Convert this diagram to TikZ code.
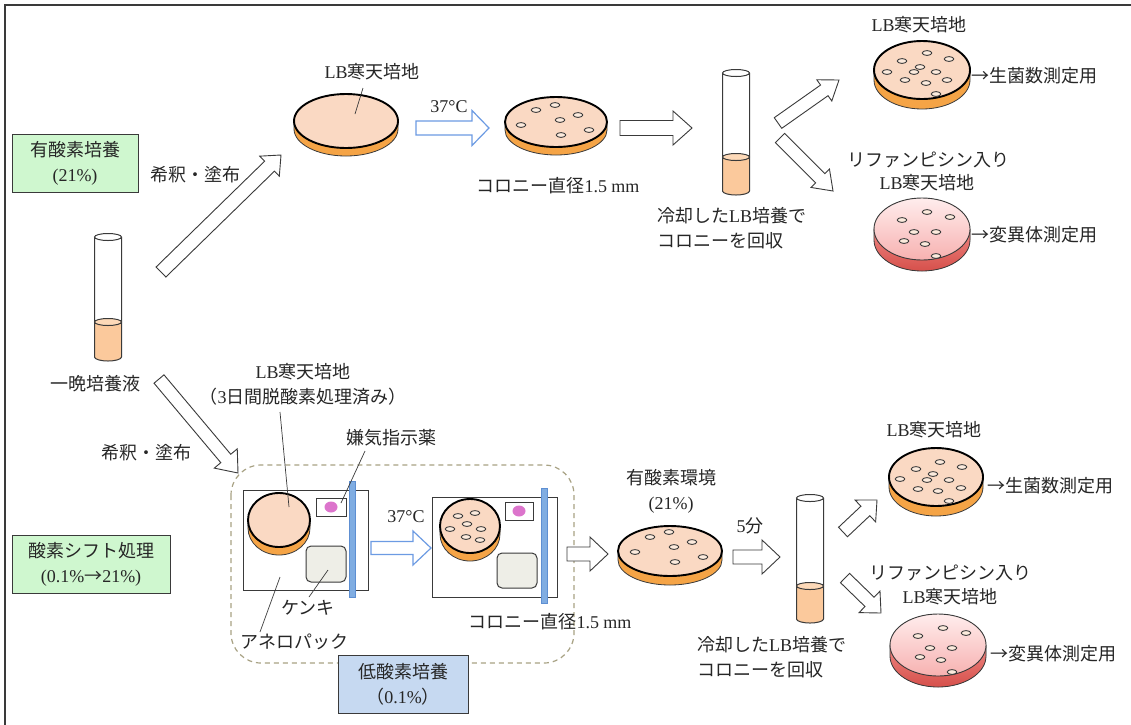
\documentclass[tikz,border=0pt]{standalone}
\usepackage{fontspec}
\setmainfont{Liberation Serif}
\newfontfamily\jp{Noto Sans CJK JP}
\usetikzlibrary{calc}

\definecolor{peach}{HTML}{FAD9C3}
\definecolor{rimorange}{HTML}{F5A446}
\definecolor{liquid}{HTML}{FBC99C}
\definecolor{liquidtop}{HTML}{FDD9B8}
\definecolor{boxgreen}{HTML}{CFF7CF}
\definecolor{boxblue}{HTML}{C6D9F1}
\definecolor{arrowblue}{HTML}{6C9BE3}
\definecolor{barblue}{HTML}{80ADE2}
\definecolor{barblueedge}{HTML}{5E8FD2}
\definecolor{inkgray}{HTML}{262626}
\definecolor{linegray}{HTML}{3A3A3A}
\definecolor{dashkhaki}{HTML}{A8A284}
\definecolor{indicator}{HTML}{DC74CC}
\definecolor{genfill}{HTML}{EEEEE7}
\definecolor{redtop}{HTML}{F7B1B0}
\definecolor{redtoplight}{HTML}{FFEDED}
\definecolor{redrimlight}{HTML}{EE8682}
\definecolor{redrimdark}{HTML}{D6504B}
\definecolor{colonyfill}{HTML}{FCEBDD}

% hollow block arrow between two named coordinates:
% [style]{from}{to}{shaft half width}{head half width}{head length}
\newcommand\fatarrow[6][]{%
  \coordinate (fa-neck) at ($(#3)!#6pt!(#2)$);
  \draw[hollow,#1] ($(#2)!#4pt!90:(#3)$) -- ($(fa-neck)!#4pt!90:(#3)$)
    -- ($(fa-neck)!#5pt!90:(#3)$) -- (#3) -- ($(fa-neck)!#5pt!-90:(#3)$)
    -- ($(fa-neck)!#4pt!-90:(#3)$) -- ($(#2)!#4pt!-90:(#3)$) -- cycle;
}

% agar plate: {name}{kind}{cx}{cy}{rx}{ry}{thickness}
\newcommand\plate[7]{%
  \coordinate (#1) at (#3,#4);
  \filldraw[#2 rim] ({#3-#5},#4) -- ({#3-#5},{#4+#7})
    arc[start angle=180,end angle=0,x radius=#5,y radius=#6] -- ({#3+#5},#4) -- cycle;
  \filldraw[#2 top] (#1) ellipse[x radius=#5,y radius=#6];
}

% colonies on a plate: {cx}{cy}{offset list}
\newcommand\colonies[3]{%
  \foreach \dx/\dy in {#3}
    \filldraw[colony] ({#1+\dx},{#2+\dy}) ellipse[x radius=4.8,y radius=2.4];
}

% test tube: {name}{cx}{top}{liquid level}{bottom}
\newcommand\tube[5]{%
  \fill[white] ({#2-13.5},#3) rectangle ({#2+13.5},#5);
  \fill[liquid] ({#2-13.5},#4) rectangle ({#2+13.5},#5);
  \fill[liquid] (#2,#5) ellipse[x radius=13.5,y radius=4];
  \draw[tubeline] ({#2-13.5},#3) -- ({#2-13.5},#5)
    arc[start angle=180,end angle=0,x radius=13.5,y radius=4] -- ({#2+13.5},#3);
  \draw[tubeline,fill=liquidtop] (#2,#4) ellipse[x radius=13.5,y radius=3.5];
  \draw[tubeline,fill=white] (#2,#3) ellipse[x radius=13.5,y radius=3.5];
  \node[inner sep=0pt,minimum width=27pt,minimum height={(#5-#3)*1pt}] (#1) at (#2,{(#3+#5)/2}) {};
}

\begin{document}
\begin{tikzpicture}[x=1pt,y=-1pt,
  lbl/.style={inner sep=0pt, text=inkgray, font=\fontsize{18}{25}\selectfont, align=center},
  lblw/.style={lbl, anchor=west, align=left},
  hollow/.style={draw=linegray, fill=white, line width=0.9pt, line join=miter},
  bluehollow/.style={draw=arrowblue, line width=1.2pt},
  plate rim/.style={fill=rimorange, draw=linegray, line width=0.8pt},
  plate top/.style={fill=peach, draw=black, line width=1.9pt},
  red rim/.style={top color=redrimlight, bottom color=redrimdark, draw=linegray, line width=0.8pt},
  red top/.style={top color=redtoplight, bottom color=redtop, draw=linegray, line width=0.9pt},
  colony/.style={fill=colonyfill, draw=linegray, line width=0.9pt},
  tubeline/.style={draw=linegray, line width=1pt},
  leader/.style={draw=linegray, line width=0.7pt},
  labelbox/.style={lbl, draw=linegray, line width=1pt, minimum height=58pt},
  packbox/.style={draw=linegray, line width=1pt, fill=white},
  bar/.style={fill=barblue, draw=barblueedge, line width=0.5pt},
  generator/.style={fill=genfill, draw=linegray, line width=1pt, rounded corners=5pt},
  indbox/.style={fill=white, draw=linegray, line width=1pt},
  frame/.style={draw=linegray, line width=1.2pt}]

\useasboundingbox (0,0) rectangle (1131,724);
\clip (0,0) rectangle (1131,724);
\fill[white] (0,0) rectangle (1131,724);
\draw[frame] (5,5) rectangle (1145,740);

% ---------------- aerobic culture (upper row) ----------------
\node[labelbox, fill=boxgreen, minimum width=126pt] (aeroBox) at (75,163)
  {{\jp 有酸素培養}\\(21\%)};

\tube{tubeA}{108}{237}{322}{357}
\node[lbl] (overnight) at (95,384) {\jp 一晩培養液};

\coordinate (a1s) at (161,272);
\coordinate (a1e) at (281,155);
\fatarrow{a1s}{a1e}{7}{14}{16}
\node[lbl] (spreadA) at (195,175) {\jp 希釈・塗布};

\plate{plA}{plate}{346}{121}{52}{27}{8}
\node[lbl] (lbA) at (372,72) {LB{\jp 寒天培地}};
\coordinate (lbA-from) at (363,88);
\coordinate (lbA-to) at (355,114);
\draw[leader] (lbA-from) -- (lbA-to);

\coordinate (a2s) at (416,128);
\coordinate (a2e) at (489,128);
\fatarrow[bluehollow]{a2s}{a2e}{7}{17.5}{17}
\node[lbl] (tempA) at (449,107) {37°C};

\plate{plB}{plate}{556}{122}{51}{25}{8}
\colonies{556}{122}{-20/-12,-1/-17,22/-7,4/-2,-35/3,33/8,5/13}
\node[lbl] (colA) at (558,186) {{\jp コロニー直径}1.5 mm};

\coordinate (a3s) at (620,128);
\coordinate (a3e) at (692,128);
\fatarrow{a3s}{a3e}{7.5}{17}{19}

\tube{tubeB}{736}{73}{157}{191}
\node[lblw] (coolA) at (657,228) {{\jp 冷却した}LB{\jp 培養で}\\{\jp コロニーを回収}};

\coordinate (a4s) at (778,123);
\coordinate (a4e) at (839,80);
\fatarrow{a4s}{a4e}{6.5}{13}{18}
\coordinate (a5s) at (780,138);
\coordinate (a5e) at (833,191);
\fatarrow{a5s}{a5e}{6.5}{13}{18}

\node[lbl] (lbB) at (919,25) {LB{\jp 寒天培地}};
\plate{plC}{plate}{922}{70}{48}{29}{10}
\colonies{922}{70}{5/-17,27/-11,-20/-9,-2/-3,-35/2,-8/2,14/2,-17/10,4/13,25/10,14/24}
\node[lblw] (countA) at (971,76) {\jp →生菌数測定用};

\node[lbl] (rifA) at (928,160) {\jp リファンピシン入り};
\node[lbl] (lbC) at (927,183) {LB{\jp 寒天培地}};
\plate{plD}{red}{922}{229}{48}{31}{11}
\colonies{922}{229}{5/-17,28/-12,-20/-9,-8/3,14/3,-18/12,3/15,14/27}
\node[lblw] (mutA) at (971,235) {\jp →変異体測定用};

% ---------------- oxygen shift (lower row) ----------------
\node[labelbox, fill=boxgreen, minimum width=158pt] (shiftBox) at (91,564)
  {{\jp 酸素シフト処理}\\(0.1\%{\jp →}21\%)};

\coordinate (b1s) at (159,379);
\coordinate (b1e) at (238,473);
\fatarrow{b1s}{b1e}{6.5}{15}{19}
\node[lbl] (spreadB) at (146,453) {\jp 希釈・塗布};

\draw[draw=dashkhaki, line width=1.2pt, dash pattern=on 5pt off 4pt, rounded corners=30pt]
  (231,465) rectangle (574,663);

% anaerobic pack before incubation
\draw[packbox] (243,490) rectangle (368,590);
\draw[bar] (349.5,481) rectangle (355.5,597);
\plate{plE}{plate}{279}{520}{31}{27}{8}
\draw[indbox] (316,498) rectangle (346,516);
\fill[indicator] (331,507) ellipse[x radius=6.5,y radius=5.5];
\draw[generator] (306,546) rectangle (346,582);

\node[lbl] (lbD) at (303,384) {LB{\jp 寒天培地}\\{\jp （}3{\jp 日間脱酸素処理済み）}};
\coordinate (lbD-from) at (280,412);
\coordinate (lbD-to) at (289,507);
\draw[leader] (lbD-from) -- (lbD-to);

\node[lbl] (indic) at (391,438) {\jp 嫌気指示薬};
\coordinate (indic-from) at (365,451);
\coordinate (indic-to) at (341,503);
\draw[leader] (indic-from) -- (indic-to);

\node[lbl] (gen) at (308,608) {\jp ケンキ};
\coordinate (gen-from) at (309,597);
\coordinate (gen-to) at (328,570);
\draw[leader] (gen-from) -- (gen-to);

\node[lbl] (pack) at (294,642) {\jp アネロパック};
\coordinate (pack-from) at (260,632);
\coordinate (pack-to) at (280,577);
\draw[leader] (pack-from) -- (pack-to);

\coordinate (b2s) at (371,548);
\coordinate (b2e) at (431,548);
\fatarrow[bluehollow]{b2s}{b2e}{6.5}{17}{18}
\node[lbl] (tempB) at (406,517) {37°C};

% anaerobic pack after incubation
\draw[packbox] (432,497) rectangle (557,597);
\draw[bar] (541.5,488) rectangle (547.5,603);
\plate{plF}{plate}{470}{526}{30}{27}{8}
\colonies{470}{526}{-12/-10,5/-13,-3/-2,-20/3,11/3,-4/11,10/14}
\draw[indbox] (505,502) rectangle (533,520);
\fill[indicator] (519,511) ellipse[x radius=6.5,y radius=5.5];
\draw[generator] (497,553) rectangle (537,588);

\node[lbl] (colB) at (550,622) {{\jp コロニー直径}1.5 mm};

\node[labelbox, fill=boxblue, minimum width=130pt] (lowBox) at (403,684)
  {{\jp 低酸素培養}\\{\jp （}0.1\%{\jp ）}};

\coordinate (b3s) at (567,554);
\coordinate (b3e) at (608,554);
\fatarrow{b3s}{b3e}{7}{17}{18}

\node[lbl] (aeroEnv) at (671,491) {{\jp 有酸素環境}\\(21\%)};
\plate{plG}{plate}{670}{551}{52}{25}{9}
\colonies{670}{549}{-20/-12,-1/-17,22/-7,4/-2,-35/3,33/8,5/13}

\coordinate (b4s) at (733,557);
\coordinate (b4e) at (780,557);
\fatarrow{b4s}{b4e}{7}{17}{18}
\node[lbl] (fivemin) at (750,526) {5{\jp 分}};

\tube{tubeC}{810}{498}{586}{619}
\node[lblw] (coolB) at (697,657) {{\jp 冷却した}LB{\jp 培養で}\\{\jp コロニーを回収}};

\coordinate (b5s) at (843,532);
\coordinate (b5e) at (877,500);
\fatarrow{b5s}{b5e}{6.5}{15}{16}
\coordinate (b6s) at (845,578);
\coordinate (b6e) at (881,613);
\fatarrow{b6s}{b6e}{6.5}{15}{16}

\node[lbl] (lbE) at (934,430) {LB{\jp 寒天培地}};
\plate{plH}{plate}{936}{477}{47}{29}{10}
\colonies{936}{477}{4/-15,26/-10,-20/-8,-3/-3,-36/2,-9/3,13/3,-18/12,2/14,25/11,13/24}
\node[lblw] (countB) at (987,486) {\jp →生菌数測定用};

\node[lbl] (rifB) at (950,573) {\jp リファンピシン入り};
\node[lbl] (lbF) at (950,597) {LB{\jp 寒天培地}};
\plate{plI}{red}{938}{645}{48}{31}{11}
\colonies{938}{645}{5/-17,28/-12,-20/-9,-8/3,14/3,-18/12,3/15,14/27}
\node[lblw] (mutB) at (990,654) {\jp →変異体測定用};

\end{tikzpicture}
\end{document}
